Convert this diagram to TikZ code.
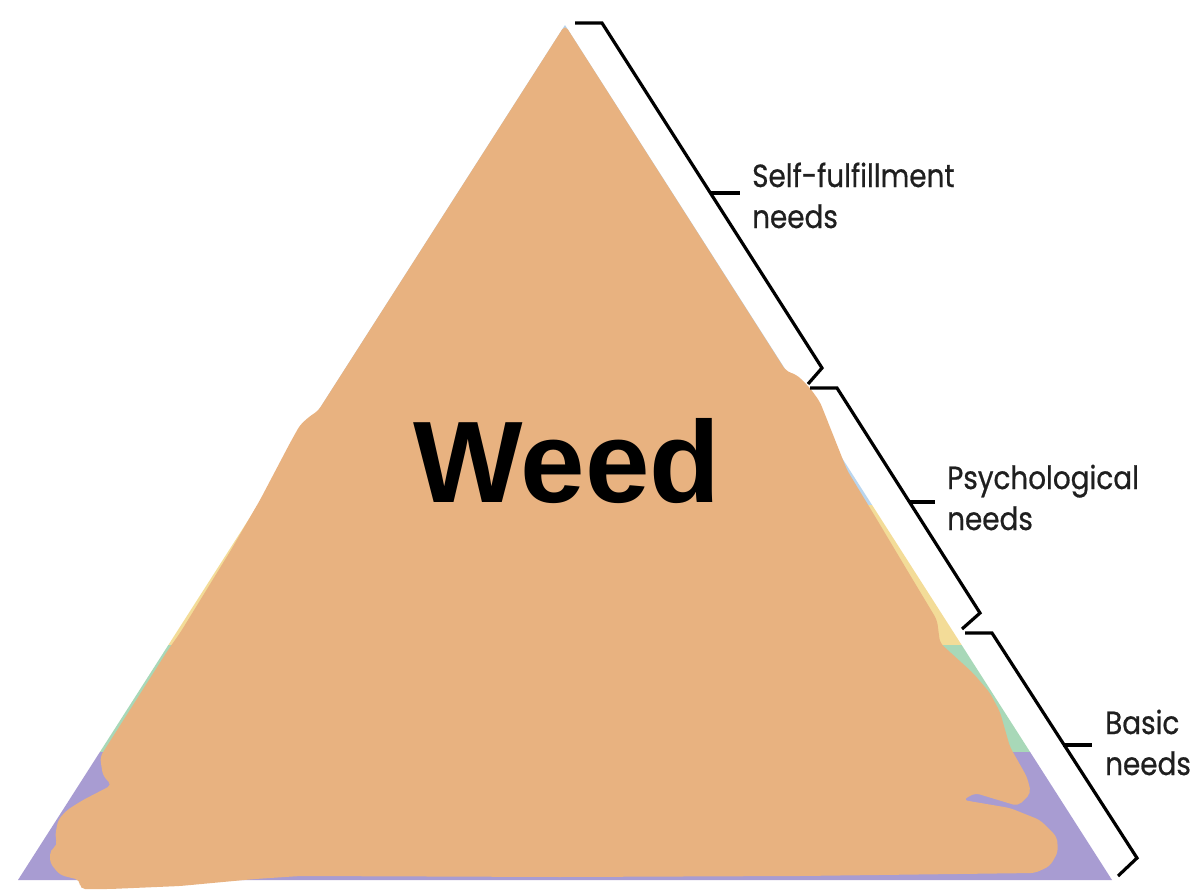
\documentclass[tikz,border=0pt]{standalone}
\usepackage{fontspec}
\setmainfont{Poppins}
\newfontfamily\lblfont[FakeStretch=0.87,FakeBold=0.6]{Poppins}
\newfontfamily\weedfont{Liberation Sans}
\definecolor{scribble}{RGB}{232,178,128}
\definecolor{layerblue}{RGB}{185,213,238}
\definecolor{layeryellow}{RGB}{243,220,152}
\definecolor{layergreen}{RGB}{168,216,184}
\definecolor{layerpurple}{RGB}{168,156,210}
\tikzset{
  bracket/.style={draw=black, line width=3.2pt, line join=miter},
  lbl/.style={inner sep=0pt, align=left, font=\lblfont\fontsize{32}{41}\selectfont, text=black!88},
}
\begin{document}
\begin{tikzpicture}[x=1pt,y=-1pt]
\useasboundingbox (0,0) rectangle (1199,889);
\fill[white] (0,0) rectangle (1199,889);
% pyramid corners
\coordinate (apex) at (565,25);
\coordinate (bl) at (18,880);
\coordinate (br) at (1112,880);
% original coloured layers
\begin{scope}
  \clip (apex) -- (br) -- (bl) -- cycle;
  \fill[layerblue] (0,0) rectangle (1199,505);
  \fill[layeryellow] (0,505) rectangle (1199,645);
  \fill[layergreen] (0,645) rectangle (1199,752);
  \fill[layerpurple] (0,752) rectangle (1199,889);
\end{scope}
% orange scribble over the pyramid
\fill[scribble, rounded corners=5pt]
  (565,25) -- (786,371) -- (797,375) -- (810,388) -- (820,402) -- (847,470)
  -- (873,513) -- (913,580) -- (937,620) -- (940,643) -- (973,673) -- (990,693)
  -- (1000,712) -- (1010,747) -- (1027,777) -- (1031,793) -- (1018,806)
  -- (975,793) -- (963,800) -- (1010,808) -- (1040,820) -- (1057,837)
  -- (1058,852) -- (1050,866) -- (1035,873) -- (800,876) -- (560,877)
  -- (300,876) -- (255,879) -- (180,886) -- (110,889) -- (80,889) -- (80,880)
  -- (60,875) -- (50,863) -- (50,850) -- (58,845) -- (55,837) -- (58,820)
  -- (67,810) -- (83,800) -- (112,785) -- (103,776) -- (100,757)
  -- (168,650) -- (180,633) -- (231,550) -- (260,500) -- (290,443)
  -- (300,425) -- (310,416) -- (318,411) -- cycle;
% brackets
\draw[bracket] (575,23) -- (602,23) -- (822,368) -- (808,384);
\draw[bracket] (710,193) -- (740,193);
\draw[bracket] (810,388) -- (837,388) -- (980,613) -- (962,629);
\draw[bracket] (909,502) -- (935,502);
\draw[bracket] (965,633) -- (992,633) -- (1137,858) -- (1118,876);
\draw[bracket] (1063,745) -- (1092,745);
% labels (base anchor = baseline of the last line)
\node[lbl, anchor=base west] (sf) at (752,228) {Self-fulfillment\\needs};
\node[lbl, anchor=base west] (ps) at (947,530) {Psychological\\needs};
\node[lbl, anchor=base west] (ba) at (1105,775) {Basic\\needs};
\node[inner sep=0pt, anchor=base west, font=\weedfont\bfseries\fontsize{116}{116}\selectfont] (weed) at (413,502) {Weed};
\end{tikzpicture}
\end{document}
